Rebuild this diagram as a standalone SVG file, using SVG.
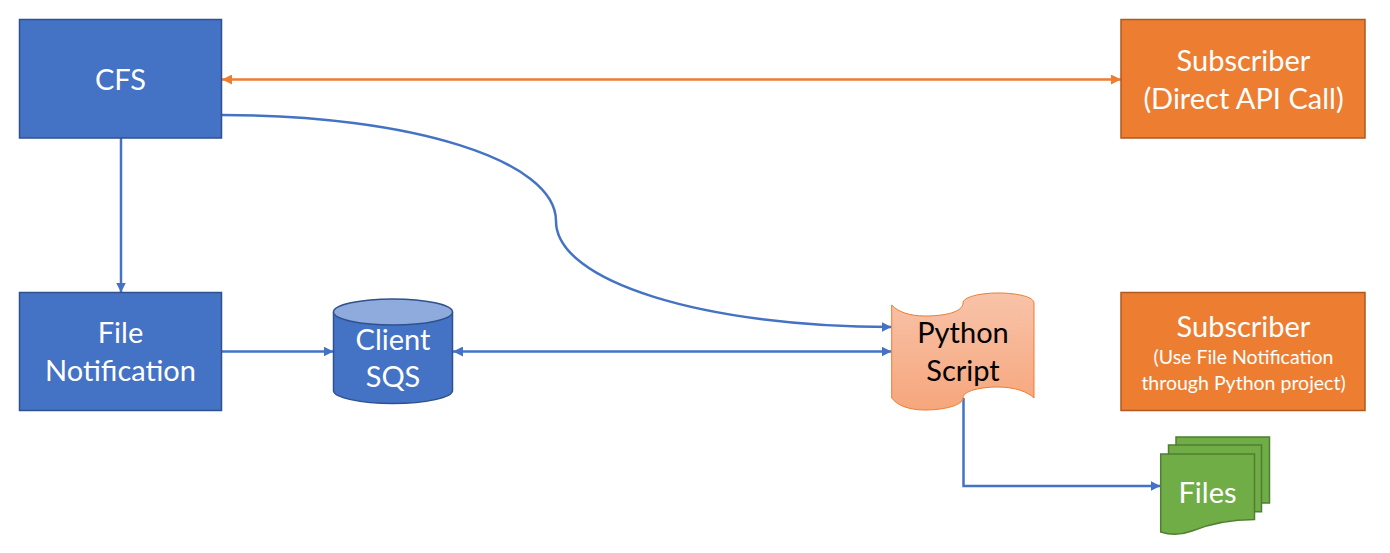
<svg xmlns="http://www.w3.org/2000/svg" width="1390" height="553" viewBox="0 0 1390 553">
<style>
text{font-family:"Lato","Liberation Sans",sans-serif;text-anchor:middle;fill:#fff;font-size:29px}
.blue{fill:#4472c4;stroke:#2f528f;stroke-width:1.5}
.orange{fill:#ed7d31;stroke:#ae5a21;stroke-width:1.5}
.green{fill:#70ad47;stroke:#507e32;stroke-width:1.5}
.cb{fill:none;stroke:#4472c4;stroke-width:2.5}
.co{fill:none;stroke:#ed7d31;stroke-width:2.5}
.small{font-size:19.500px}
.dark{fill:#000}
</style>
<defs>
<marker id="ab" markerUnits="userSpaceOnUse" markerWidth="10" markerHeight="10" refX="10" refY="5" orient="auto-start-reverse"><path d="M0 0L10 5L0 10Z" fill="#4472c4"/></marker>
<marker id="ao" markerUnits="userSpaceOnUse" markerWidth="10" markerHeight="10" refX="10" refY="5" orient="auto-start-reverse"><path d="M0 0L10 5L0 10Z" fill="#ed7d31"/></marker>
<linearGradient id="pg" x1="0" y1="0" x2="0" y2="1"><stop offset="0" stop-color="#f8c3a9"/><stop offset="1" stop-color="#f6a67c"/></linearGradient>
</defs>
<g id="connectors">
<path class="co" d="M222 79.500H1121" marker-start="url(#ao)" marker-end="url(#ao)"/>
<path class="cb" d="M121 138V292.500" marker-end="url(#ab)"/>
<path class="cb" d="M222 115C410 115 556 160 556 221C556 282 705 327 891.500 327" marker-end="url(#ab)"/>
<path class="cb" d="M222 351.500H333.500" marker-end="url(#ab)"/>
<path class="cb" d="M453 351.500H891.500" marker-start="url(#ab)" marker-end="url(#ab)"/>
<path class="cb" d="M963.500 398V486H1160.500" marker-end="url(#ab)"/>
</g>
<g id="cfs"><rect class="blue" x="19.500" y="19.500" width="202" height="118.500"/><text x="120.500" y="90">CFS</text></g>
<g id="subscriber-api"><rect class="orange" x="1121" y="19.500" width="244" height="118.500"/><text x="1243.500" y="71">Subscriber</text><text x="1243.500" y="109">(Direct API Call)</text></g>
<g id="file-notification"><rect class="blue" x="19.500" y="292.500" width="202" height="118"/><text x="120.500" y="343">File</text><text x="120.500" y="381">Notification</text></g>
<g id="client-sqs"><path class="blue" d="M333.500 312V390.500C333.500 397.500 360 403.500 393 403.500S452.500 397.500 452.500 390.500V312"/><ellipse cx="393" cy="312" rx="59.500" ry="13" fill="#8faadc" stroke="#2f528f" stroke-width="1.500"/><text x="393" y="350">Client</text><text x="393" y="387">SQS</text></g>
<g id="python-script"><path fill="url(#pg)" stroke="#ed7d31" stroke-width="1" d="M891.700 305C898 312 910 316 925 316C945 316 963 312 963 303C963 297 980 293 998 293C1018 293 1034 297 1034 303V398C1028 392 1015 387 998 387C980 387 963 391 963 398C963 405 945 410 925 410C908 410 897 405 891.700 398Z"/><text class="dark" x="963" y="343">Python</text><text class="dark" x="963" y="381">Script</text></g>
<g id="subscriber-python"><rect class="orange" x="1121" y="292.500" width="244" height="118"/><text x="1243.500" y="337">Subscriber</text><text class="small" x="1243.500" y="364">(Use File Notification</text><text class="small" x="1243.500" y="390">through Python project)</text></g>
<g id="files"><path class="green" d="M1176 437H1269.500V503H1176Z"/><path class="green" d="M1168.500 445H1261.500V511.700H1168.500Z"/><path class="green" d="M1160.700 454H1254.500V519.500C1225 519.500 1207 525 1192 531C1180 535.500 1170 535 1160.700 532Z"/><text x="1207.500" y="503">Files</text></g>
</svg>
